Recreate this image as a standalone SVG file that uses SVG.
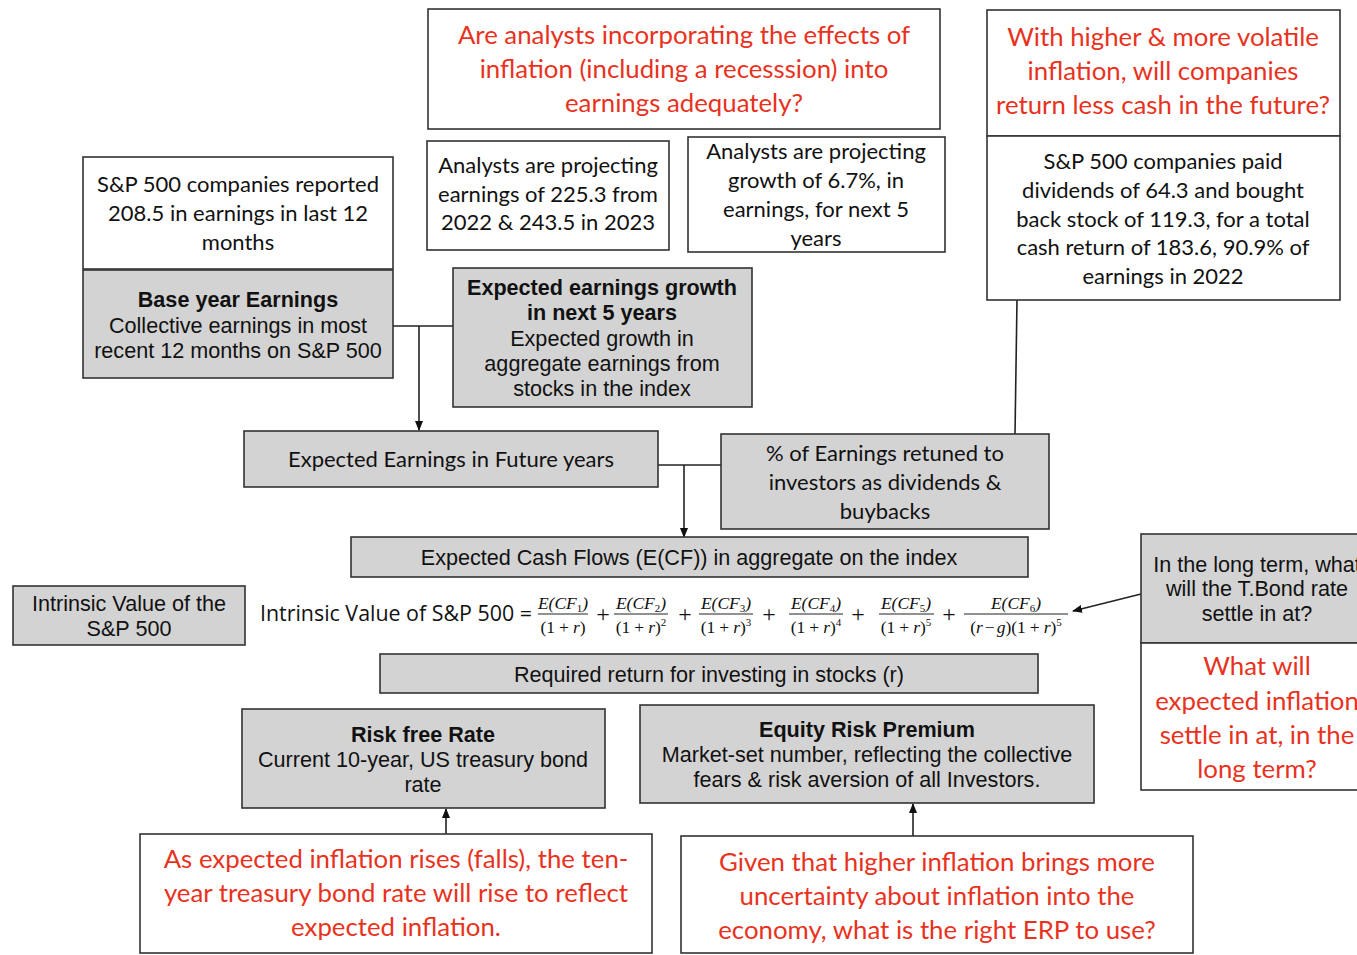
<svg xmlns="http://www.w3.org/2000/svg" width="1357" height="955" viewBox="0 0 1357 955">
<style>
.w{fill:#fff;stroke:#333;stroke-width:1.6}
.g{fill:#d3d3d3;stroke:#333;stroke-width:1.6}
.av{font-family:Lato,"Noto Sans",sans-serif;text-anchor:middle;fill:#111;font-size:22px}
.red{font-family:Lato,"Noto Sans",sans-serif;text-anchor:middle;fill:#e8321e;font-size:25.8px}
.ar{font-family:"Liberation Sans",Arial,sans-serif;text-anchor:middle;fill:#111;font-size:21.6px}
.b{font-weight:bold}
.m{font-family:"Liberation Serif","DejaVu Serif",serif;font-size:17.5px;text-anchor:middle;fill:#111}
.mi{font-style:italic}
.pl{font-size:24px}
.ln{stroke:#222;stroke-width:1.6;fill:none}
.fl{stroke:#222;stroke-width:1}
</style>
<defs>
<marker id="ah" markerWidth="10" markerHeight="10" refX="9" refY="5" orient="auto" markerUnits="userSpaceOnUse">
<path d="M0,1 L10,5 L0,9 z" fill="#111"/>
</marker>
</defs>

<g id="connectors">
<path class="ln" d="M393,326 L453,326"/>
<path class="ln" d="M419,326 L419,430" marker-end="url(#ah)"/>
<path class="ln" d="M1017,300 L1015,434"/>
<path class="ln" d="M658,465 L721,465"/>
<path class="ln" d="M684,465 L684,537" marker-end="url(#ah)"/>
<path class="ln" d="M1141,594 L1073,611" marker-end="url(#ah)"/>
<path class="ln" d="M446,853 L446,809" marker-end="url(#ah)"/>
<path class="ln" d="M913,836 L913,804" marker-end="url(#ah)"/>
</g>

<g id="q-analysts">
<rect class="w" x="428" y="9" width="512" height="120"/>
<text class="red"><tspan x="684" y="44">Are analysts incorporating the effects of</tspan><tspan x="684" y="78">inflation (including a recesssion) into</tspan><tspan x="684" y="112">earnings adequately?</tspan></text>
</g>

<g id="q-cash">
<rect class="w" x="987" y="10" width="353" height="126"/>
<text class="red"><tspan x="1163" y="46">With higher &amp; more volatile</tspan><tspan x="1163" y="80">inflation, will companies</tspan><tspan x="1163" y="114">return less cash in the future?</tspan></text>
</g>

<g id="sp-paid">
<rect class="w" x="987" y="136" width="353" height="164"/>
<text class="av"><tspan x="1163" y="169">S&amp;P 500 companies paid</tspan><tspan x="1163" y="198">dividends of 64.3 and bought</tspan><tspan x="1163" y="227">back stock of 119.3, for a total</tspan><tspan x="1163" y="255">cash return of 183.6, 90.9% of</tspan><tspan x="1163" y="284">earnings in 2022</tspan></text>
</g>

<g id="sp-reported">
<rect class="w" x="83" y="157" width="310" height="112"/>
<text class="av"><tspan x="238" y="192">S&amp;P 500 companies reported</tspan><tspan x="238" y="221">208.5 in earnings in last 12</tspan><tspan x="238" y="250">months</tspan></text>
</g>

<g id="analysts-earnings">
<rect class="w" x="427" y="141" width="242" height="109"/>
<text class="av"><tspan x="548" y="173">Analysts are projecting</tspan><tspan x="548" y="202">earnings of  225.3 from</tspan><tspan x="548" y="230">2022 &amp; 243.5 in 2023</tspan></text>
</g>

<g id="analysts-growth">
<rect class="w" x="688" y="137" width="257" height="115"/>
<text class="av"><tspan x="816" y="159">Analysts are projecting</tspan><tspan x="816" y="188">growth of 6.7%, in</tspan><tspan x="816" y="217">earnings, for next 5</tspan><tspan x="816" y="246">years</tspan></text>
</g>

<g id="base-year">
<rect class="g" x="83" y="270" width="310" height="108"/>
<text class="ar" font-size="22.7"><tspan x="238" y="307" class="b">Base year Earnings</tspan><tspan x="238" y="333">Collective earnings in most</tspan><tspan x="238" y="358">recent 12 months on S&amp;P 500</tspan></text>
</g>

<g id="growth">
<rect class="g" x="453" y="268" width="299" height="139"/>
<text class="ar"><tspan x="602" y="295" class="b">Expected earnings growth</tspan><tspan x="602" y="320" class="b">in next 5 years</tspan><tspan x="602" y="346">Expected growth in</tspan><tspan x="602" y="371">aggregate earnings from</tspan><tspan x="602" y="396">stocks in the index</tspan></text>
</g>

<g id="future-earnings">
<rect class="g" x="244" y="431" width="414" height="56"/>
<text class="av" x="451" y="467">Expected Earnings in Future years</text>
</g>

<g id="pct-returned">
<rect class="g" x="721" y="434" width="328" height="95"/>
<text class="av"><tspan x="885" y="461">% of Earnings retuned to</tspan><tspan x="885" y="490">investors as dividends &amp;</tspan><tspan x="885" y="519">buybacks</tspan></text>
</g>

<g id="ecf">
<rect class="g" x="351" y="537" width="677" height="40"/>
<text class="ar" x="689" y="565">Expected Cash Flows (E(CF)) in aggregate on the index</text>
</g>

<g id="iv-label">
<rect class="g" x="13" y="586" width="232" height="59"/>
<text class="ar"><tspan x="129" y="611">Intrinsic Value of the</tspan><tspan x="129" y="636">S&amp;P 500</tspan></text>
</g>

<g id="formula">
<text x="260" y="621" font-family="'Open Sans','Noto Sans',sans-serif" font-size="21.4" fill="#111">Intrinsic Value of S&amp;P 500 =</text>
<g class="m">
<text x="563" y="609" class="mi">E(CF<tspan font-size="11" dy="3" font-style="normal">1</tspan><tspan dy="-3">)</tspan></text>
<line class="fl" x1="538" y1="614" x2="588" y2="614"/>
<text x="563" y="633">(1<tspan dx="4">+</tspan><tspan dx="4" class="mi">r</tspan>)</text>
<text x="603" y="622" class="pl">+</text>
<text x="641" y="609" class="mi">E(CF<tspan font-size="11" dy="3" font-style="normal">2</tspan><tspan dy="-3">)</tspan></text>
<line class="fl" x1="614" y1="614" x2="668" y2="614"/>
<text x="641" y="633">(1<tspan dx="4">+</tspan><tspan dx="4" class="mi">r</tspan>)<tspan font-size="11" dy="-7">2</tspan></text>
<text x="685" y="622" class="pl">+</text>
<text x="726" y="609" class="mi">E(CF<tspan font-size="11" dy="3" font-style="normal">3</tspan><tspan dy="-3">)</tspan></text>
<line class="fl" x1="699" y1="614" x2="753" y2="614"/>
<text x="726" y="633">(1<tspan dx="4">+</tspan><tspan dx="4" class="mi">r</tspan>)<tspan font-size="11" dy="-7">3</tspan></text>
<text x="769" y="622" class="pl">+</text>
<text x="816" y="609" class="mi">E(CF<tspan font-size="11" dy="3" font-style="normal">4</tspan><tspan dy="-3">)</tspan></text>
<line class="fl" x1="789" y1="614" x2="843" y2="614"/>
<text x="816" y="633">(1<tspan dx="4">+</tspan><tspan dx="4" class="mi">r</tspan>)<tspan font-size="11" dy="-7">4</tspan></text>
<text x="858" y="622" class="pl">+</text>
<text x="906" y="609" class="mi">E(CF<tspan font-size="11" dy="3" font-style="normal">5</tspan><tspan dy="-3">)</tspan></text>
<line class="fl" x1="879" y1="614" x2="934" y2="614"/>
<text x="906" y="633">(1<tspan dx="4">+</tspan><tspan dx="4" class="mi">r</tspan>)<tspan font-size="11" dy="-7">5</tspan></text>
<text x="949" y="622" class="pl">+</text>
<text x="1016" y="609" class="mi">E(CF<tspan font-size="11" dy="3" font-style="normal">6</tspan><tspan dy="-3">)</tspan></text>
<line class="fl" x1="964" y1="614" x2="1068" y2="614"/>
<text x="1016" y="633">(<tspan class="mi">r</tspan><tspan dx="2">−</tspan><tspan dx="2" class="mi">g</tspan>)(1<tspan dx="4">+</tspan><tspan dx="4" class="mi">r</tspan>)<tspan font-size="11" dy="-7">5</tspan></text>
</g>
</g>

<g id="tbond">
<rect class="g" x="1141" y="534" width="232" height="109"/>
<text class="ar"><tspan x="1257" y="572">In the long term, what</tspan><tspan x="1257" y="596">will the T.Bond rate</tspan><tspan x="1257" y="621">settle in at?</tspan></text>
</g>

<g id="q-inflation">
<rect class="w" x="1141" y="643" width="232" height="147"/>
<text class="red"><tspan x="1257" y="675">What will</tspan><tspan x="1257" y="710">expected inflation</tspan><tspan x="1257" y="744">settle in at, in the</tspan><tspan x="1257" y="778">long term?</tspan></text>
</g>

<g id="required-return">
<rect class="g" x="380" y="654" width="658" height="39"/>
<text class="ar" x="709" y="682">Required return for investing in stocks (r)</text>
</g>

<g id="riskfree">
<rect class="g" x="242" y="709" width="363" height="99"/>
<text class="ar"><tspan x="423" y="742" class="b">Risk free Rate</tspan><tspan x="423" y="767">Current 10-year, US treasury bond</tspan><tspan x="423" y="792">rate</tspan></text>
</g>

<g id="erp">
<rect class="g" x="640" y="705" width="454" height="98"/>
<text class="ar"><tspan x="867" y="737" class="b">Equity Risk Premium</tspan><tspan x="867" y="762">Market-set number, reflecting the collective</tspan><tspan x="867" y="787">fears &amp; risk aversion of all Investors.</tspan></text>
</g>

<g id="q-tenyear">
<rect class="w" x="140" y="834" width="512" height="119"/>
<text class="red"><tspan x="396" y="868">As expected inflation rises (falls), the ten-</tspan><tspan x="396" y="902">year treasury bond rate will rise to reflect</tspan><tspan x="396" y="936">expected inflation.</tspan></text>
</g>

<g id="q-erp">
<rect class="w" x="681" y="836" width="512" height="117"/>
<text class="red"><tspan x="937" y="871">Given that higher inflation brings more</tspan><tspan x="937" y="905">uncertainty about inflation into the</tspan><tspan x="937" y="939">economy, what is the right ERP to use?</tspan></text>
</g>
</svg>
